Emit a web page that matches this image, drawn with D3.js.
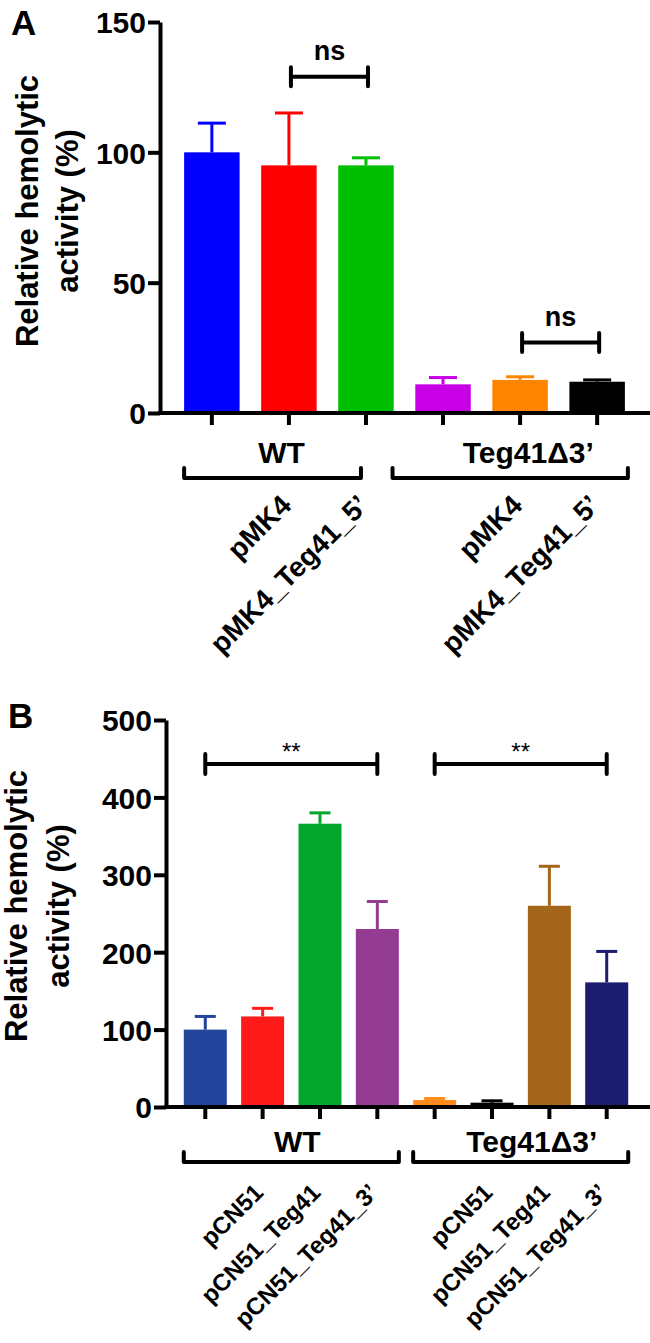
<!DOCTYPE html>
<html><head><meta charset="utf-8">
<script src="https://cdn.jsdelivr.net/npm/d3@7"></script>
<style>body{margin:0;background:#fff} svg{display:block}</style>
</head><body>
<svg id="chart" width="650" height="1343"></svg>
<script>
// ---------- Panel A data ----------
const aStrain  = ["WT", "WT", "WT", "Teg41Δ3’", "Teg41Δ3’", "Teg41Δ3’"];
const aPlasmid = ["", "pMK4", "pMK4_Teg41_5’", "", "pMK4", "pMK4_Teg41_5’"];
const aMean    = [100, 95, 95, 11, 12.7, 12];
const aSD      = [11.2, 20.1, 2.9, 2.6, 1.2, 0.7];
const aColor   = ["#0000FF", "#FF0000", "#00BE00", "#C800E6", "#FF8500", "#000000"];
const aTicks   = [0, 50, 100, 150];
const aSig     = [{from: 1, to: 2, level: 129, label: "ns"}, {from: 4, to: 5, level: 27, label: "ns"}];

// ---------- Panel B data ----------
const bStrain  = ["WT", "WT", "WT", "WT", "Teg41Δ3’", "Teg41Δ3’", "Teg41Δ3’", "Teg41Δ3’"];
const bPlasmid = ["", "pCN51", "pCN51_Teg41", "pCN51_Teg41_3’", "", "pCN51", "pCN51_Teg41", "pCN51_Teg41_3’"];
const bMean    = [100, 117, 366, 230, 9, 5.6, 260, 161];
const bSD      = [17, 10.5, 14, 35.5, 2, 2.4, 51, 40];
const bColor   = ["#22449A", "#FF1A1A", "#03A62D", "#943C92", "#FF8C1A", "#000000", "#A3661A", "#1C1C70"];
const bTicks   = [0, 100, 200, 300, 400, 500];
const bSig     = [{from: 0, to: 3, level: 443, label: "**"}, {from: 4, to: 7, level: 443, label: "**"}];

const yTitle = ["Relative hemolytic", "activity (%)"];
const FONT = "'Liberation Sans', Arial, Helvetica, sans-serif";

const svg = d3.select("#chart");

function drawPanel(o) {
  const n = o.mean.length;
  const g = svg.append("g").attr("font-family", FONT);
  const x = d3.scaleBand().domain(d3.range(n)).range(o.xRange)
    .paddingInner(o.pi).paddingOuter(o.po);
  const y = d3.scaleLinear().domain([0, d3.max(o.ticks)]).range(o.yRange);
  const bw = x.bandwidth();
  const cx = i => x(i) + bw / 2;
  const y0 = y(0);

  // bars
  g.selectAll("rect.bar").data(o.mean).join("rect").attr("class", "bar")
    .attr("x", (d, i) => x(i)).attr("y", d => y(d))
    .attr("width", bw).attr("height", d => y0 - y(d))
    .attr("fill", (d, i) => o.color[i]);

  // error bars
  const eb = g.selectAll("g.err").data(o.mean).join("g").attr("class", "err")
    .attr("stroke", (d, i) => o.color[i]).attr("stroke-width", 3);
  eb.append("line").attr("x1", (d, i) => cx(i)).attr("x2", (d, i) => cx(i))
    .attr("y1", d => y(d)).attr("y2", (d, i) => y(d + o.sd[i]));
  eb.append("line").attr("x1", (d, i) => cx(i) - o.capW / 2).attr("x2", (d, i) => cx(i) + o.capW / 2)
    .attr("y1", (d, i) => y(d + o.sd[i])).attr("y2", (d, i) => y(d + o.sd[i]));

  // y axis
  const ya = g.append("g").attr("transform", `translate(${o.axisX},0)`)
    .call(d3.axisLeft(y).tickValues(o.ticks).tickSize(12).tickSizeOuter(0).tickPadding(2));
  ya.select(".domain").attr("stroke", "#000").attr("stroke-width", 4);
  ya.selectAll(".tick line").attr("stroke", "#000").attr("stroke-width", 4);
  ya.selectAll(".tick text").attr("font-family", FONT).attr("font-size", 30)
    .attr("font-weight", "bold").attr("fill", "#000").attr("dy", "0.36em");

  // x axis baseline and ticks
  const xa = g.append("g").attr("transform", `translate(0,${y0})`)
    .call(d3.axisBottom(x).tickSize(12).tickSizeOuter(0).tickFormat(""));
  xa.select(".domain").remove();
  xa.selectAll(".tick line").attr("stroke", "#000").attr("stroke-width", 4);
  g.append("line").attr("x1", o.axisX - 2).attr("x2", 650).attr("y1", y0).attr("y2", y0)
    .attr("stroke", "#000").attr("stroke-width", 4);

  // significance brackets
  o.sig.forEach(s => {
    const x1 = cx(s.from) + o.sigDx, x2 = cx(s.to) + o.sigDx, yy = y(s.level);
    g.append("path").attr("d", `M${x1},${yy - o.sigH}V${yy + o.sigH}M${x1},${yy}H${x2}M${x2},${yy - o.sigH}V${yy + o.sigH}`)
      .attr("stroke", "#000").attr("stroke-width", 4).attr("fill", "none").attr("stroke-linecap", "round");
    g.append("text").attr("x", (x1 + x2) / 2).attr("y", yy + o.sigTextDy)
      .attr("text-anchor", "middle").attr("font-size", o.sigFont)
      .attr("font-weight", o.sigWeight).text(s.label);
  });

  // group brackets and labels
  const groups = Array.from(d3.group(d3.range(n), i => o.strain[i]), ([k, v]) => ({label: k, idx: v}));
  groups.forEach((grp, gi) => {
    const [bx1, bx2] = o.bracket(grp.idx, x, bw, gi);
    const yl = o.bracketY;
    g.append("path").attr("d", `M${bx1},${yl - 10}V${yl}H${bx2}V${yl - 10}`)
      .attr("stroke", "#000").attr("stroke-width", 4).attr("fill", "none")
      .attr("stroke-linejoin", "round").attr("stroke-linecap", "round");
    g.append("text").attr("x", (bx1 + bx2) / 2 + o.groupDx[gi]).attr("y", o.groupY)
      .attr("text-anchor", "middle").attr("font-size", 30).attr("font-weight", "bold").text(grp.label);
  });

  // rotated plasmid labels
  g.selectAll("text.pl").data(o.plasmid.map((p, i) => ({p, i})).filter(d => d.p)).join("text")
    .attr("class", "pl")
    .attr("transform", d => `translate(${cx(d.i) + o.labDx},${o.labY}) rotate(-45)`)
    .attr("text-anchor", "end").attr("font-size", o.labFont).attr("font-weight", "bold").text(d => d.p);

  // y title
  const t = g.append("text").attr("transform", `translate(${o.titleX},${o.titleY}) rotate(-90)`)
    .attr("text-anchor", "middle").attr("font-size", 31).attr("font-weight", "bold");
  t.selectAll("tspan").data(yTitle).join("tspan").attr("x", 0).attr("y", (d, i) => i * o.titleGap).text(d => d);

  // panel letter
  g.append("text").attr("x", o.letterX).attr("y", o.letterY).attr("font-size", 35)
    .attr("font-weight", "bold").text(o.letter);
}

drawPanel({
  letter: "A", letterX: 11, letterY: 35,
  strain: aStrain, plasmid: aPlasmid, mean: aMean, sd: aSD, color: aColor, ticks: aTicks, sig: aSig,
  xRange: [161, 648], pi: 0.28, po: 0.3, yRange: [413, 22], axisX: 160, capW: 28,
  sigDx: 2, sigH: 9.5, sigTextDy: -17, sigFont: 27, sigWeight: "bold",
  bracket: (idx, x, bw, gi) => gi === 0 ? [x(idx[0]), x(idx[idx.length - 1]) + bw / 2 - 5]
                                        : [x(idx[0]) - bw / 2 + 5, x(idx[idx.length - 1]) + bw + 3],
  bracketY: 478, groupY: 463, groupDx: [9, 18],
  labDx: 4, labY: 507, labFont: 28,
  titleX: 38, titleY: 211, titleGap: 40
});

drawPanel({
  letter: "B", letterX: 8, letterY: 728,
  strain: bStrain, plasmid: bPlasmid, mean: bMean, sd: bSD, color: bColor, ticks: bTicks, sig: bSig,
  xRange: [166, 646], pi: 0.25, po: 0.31, yRange: [1107, 720], axisX: 166, capW: 21,
  sigDx: 0, sigH: 10, sigTextDy: -4, sigFont: 24, sigWeight: "normal",
  bracket: (idx, x, bw, gi) => [x(idx[0]), x(idx[idx.length - 1]) + bw],
  bracketY: 1162, groupY: 1152, groupDx: [6, 11],
  labDx: 2, labY: 1194, labFont: 24,
  titleX: 27, titleY: 906, titleGap: 42
});
</script>
</body></html>
